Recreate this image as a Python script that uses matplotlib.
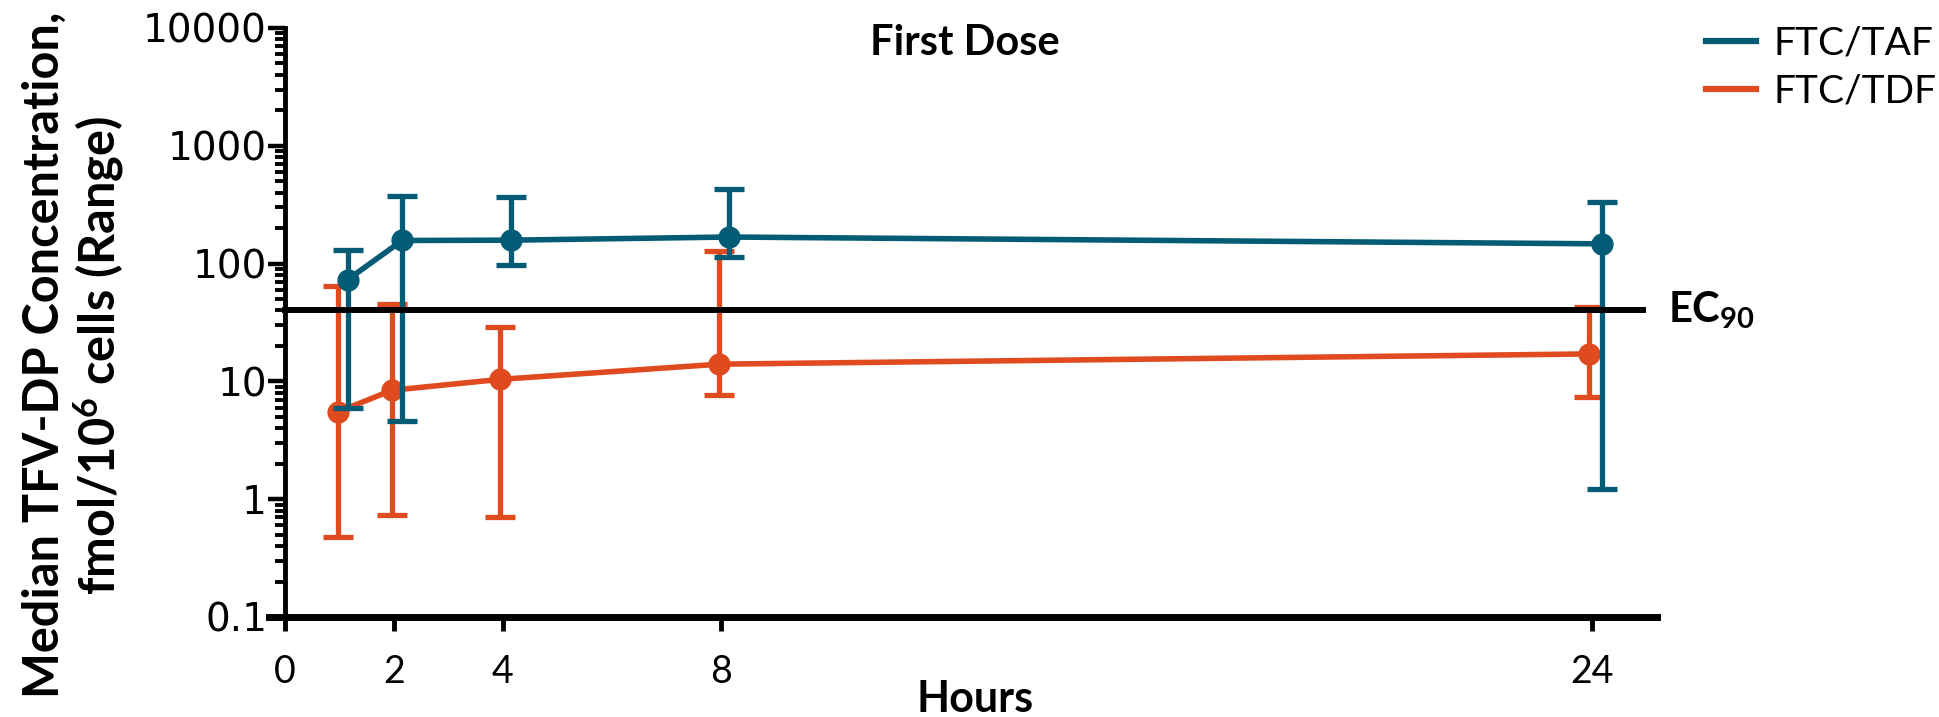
import numpy as np
import matplotlib
matplotlib.use("Agg")
import matplotlib.pyplot as plt
from matplotlib.ticker import LogLocator, NullFormatter, FixedLocator
from matplotlib.lines import Line2D

plt.rcParams['font.family'] = ['Lato', 'DejaVu Sans']
plt.rcParams['mathtext.fontset'] = 'custom'
plt.rcParams['mathtext.rm'] = 'Lato'
plt.rcParams['mathtext.bf'] = 'Lato:bold'
plt.rcParams['mathtext.it'] = 'Lato:italic'

# data (median, range)
taf_hours = [1.15, 2.15, 4.15, 8.15, 24.2]
taf_median = [73, 157, 158, 168, 147]
taf_low = [5.9, 4.65, 97, 114, 1.22]
taf_high = [131, 378, 368, 432, 336]

tdf_hours = [0.97, 1.96, 3.95, 7.98, 23.95]
tdf_median = [5.5, 8.4, 10.4, 14, 17.1]
tdf_low = [0.48, 0.74, 0.70, 7.7, 7.35]
tdf_high = [64, 45.6, 28.7, 129, 42.4]

ec90 = 40
x_ticks = [0, 2, 4, 8, 24]
y_ticks = [0.1, 1, 10, 100, 1000, 10000]
y_ticklabels = ["0.1", "1", "10", "100", "1000", "10000"]

taf_color = "#035b76"
tdf_color = "#e04a1f"

fig = plt.figure(figsize=(19.39, 7.17), dpi=100)
ax = fig.add_axes([0.1386, 0.1395, 0.7159, 0.8215])

def draw(hours, med, low, high, color, z):
    med = np.array(med)
    yerr = [med - np.array(low), np.array(high) - med]
    ax.errorbar(hours, med, yerr=yerr, color=color, lw=4, elinewidth=3.8,
                capsize=10.5, capthick=3.8, marker='o', markersize=15,
                zorder=z)

draw(tdf_hours, tdf_median, tdf_low, tdf_high, tdf_color, 3)
draw(taf_hours, taf_median, taf_low, taf_high, taf_color, 4)

# EC90 reference line
ax.axhline(ec90, xmin=0.0118, xmax=0.99, color="black", lw=4.3, zorder=5)
ax.text(25.4, ec90, r"$\mathbf{EC_{90}}$", fontsize=30, va="center",
        ha="left")

ax.set_yscale("log")
ax.set_ylim(0.1, 10000)
ax.set_xlim(-0.3, 25.2)

ax.spines["top"].set_visible(False)
ax.spines["right"].set_visible(False)
ax.spines["left"].set_position(("data", 0))
ax.spines["left"].set_linewidth(3.5)
ax.spines["bottom"].set_linewidth(5)

ax.yaxis.set_major_locator(FixedLocator(y_ticks))
ax.set_yticklabels(y_ticklabels, family="DejaVu Sans", fontsize=28)
ax.yaxis.set_minor_locator(LogLocator(base=10, subs=np.arange(2, 10)))
ax.yaxis.set_minor_formatter(NullFormatter())
ax.tick_params(axis="y", which="major", length=12, width=3.2, pad=1)
ax.tick_params(axis="y", which="minor", length=7.5, width=2.8)

ax.set_xticks(x_ticks)
ax.set_xticklabels([str(t) for t in x_ticks], fontsize=27)
ax.tick_params(axis="x", which="major", length=10, width=3.5, pad=17)

fig.text(965 / 1939, 1 - 43 / 717, "First Dose", fontsize=30,
         fontweight="bold", ha="center", va="center")
fig.text(975 / 1939, 1 - 699 / 717, "Hours", fontsize=31, fontweight="bold",
         ha="center", va="center")
fig.text(0.038, 0.505, "Median TFV-DP Concentration,\nfmol/10$^{\\mathbf{6}}$ cells (Range)",
         rotation=90, fontsize=35, fontweight="bold", ha="center", va="center",
         multialignment="center", linespacing=1.1)

handles = [Line2D([], [], color=taf_color, lw=4.5),
           Line2D([], [], color=tdf_color, lw=4.5)]
fig.legend(handles, ["FTC/TAF", "FTC/TDF"], loc="upper left",
           bbox_to_anchor=(1690 / 1939, 1 - 10 / 717), frameon=False,
           fontsize=28, handlelength=1.3, handletextpad=0.45,
           labelspacing=0.3, borderaxespad=0)

fig.savefig("out.png", dpi=100)
